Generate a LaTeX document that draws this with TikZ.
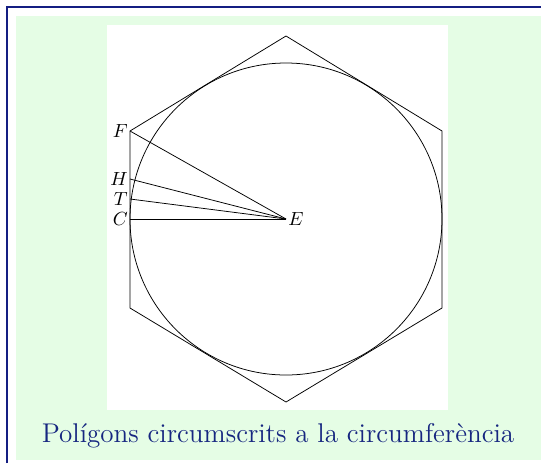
\documentclass[tikz,border=0pt]{standalone}
\usetikzlibrary{calc}
\definecolor{frameblue}{RGB}{20,30,130}
\definecolor{titleblue}{RGB}{22,38,128}
\definecolor{bggreen}{RGB}{229,253,229}
\begin{document}
\begin{tikzpicture}[x=0.526pt,y=-0.526pt,
  geom/.style={black,line width=0.4pt,line join=miter},
  lbl/.style={inner sep=1pt,font=\normalsize}]
\useasboundingbox (0,0) rectangle (541,463);
\fill[bggreen] (16,16) rectangle (541,460);
\draw[frameblue,line width=0.6pt] (7,463) -- (7,7) -- (541,7);
\fill[white] (107,25) rectangle (448,410);
% geometry
\coordinate (E) at (286,219);
\coordinate (C) at (130,219);
\coordinate (F) at (130,131);
\coordinate (H) at (130,179);
\coordinate (T) at (130,199);
\coordinate (V1) at (286,36);
\coordinate (V2) at (442,131);
\coordinate (V3) at (442,308);
\coordinate (V4) at (286,402);
\coordinate (V5) at (130,308);
\draw[geom] (E) circle[radius=156];
\draw[geom] (V1) -- (V2) -- (V3) -- (V4) -- (V5) -- (F) -- cycle;
\draw[geom] (E) -- (F);
\draw[geom] (E) -- (H);
\draw[geom] (E) -- (T);
\draw[geom] (E) -- (C);
\node[lbl,anchor=east] (lF) at (F) {$F$};
\node[lbl,anchor=east] (lH) at (H) {$H$};
\node[lbl,anchor=east] (lT) at (T) {$T$};
\node[lbl,anchor=east] (lC) at (C) {$C$};
\node[lbl,anchor=west] (lE) at (E) {$E$};
\node[anchor=base,text=titleblue,inner sep=0pt,font=\fontsize{14.25}{17}\selectfont] (title) at (278,442) {Polígons circumscrits a la circumferència};
\end{tikzpicture}
\end{document}
